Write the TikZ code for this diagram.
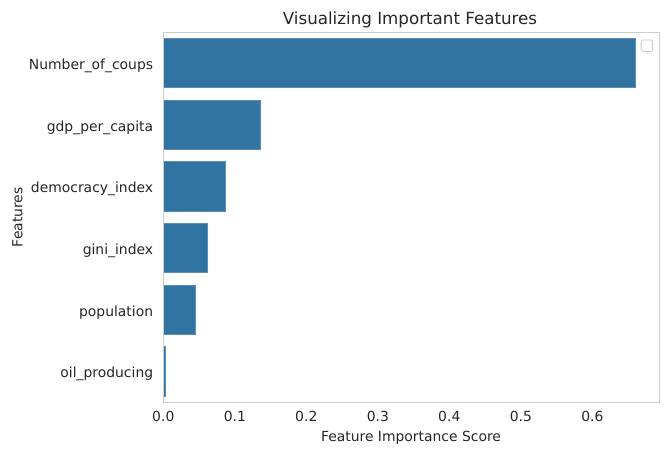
\documentclass[tikz,border=0pt]{standalone}
\usepackage{fontspec}
\setmainfont{DejaVu Sans}
\definecolor{barblue}{HTML}{3274A1}
\definecolor{baredge}{HTML}{5A8DB8}
\definecolor{spine}{HTML}{CCCCCC}
\definecolor{ink}{HTML}{262626}

\begin{document}
\begin{tikzpicture}[x=1pt, y=-1pt,
    ticklabel/.style={text=ink, font=\fontsize{13.9}{16}\selectfont, inner sep=0pt},
    featbar/.style={fill=barblue, draw=baredge, line width=0.7pt},
    frame/.style={draw=spine, line width=1pt},
    legendbox/.style={draw=spine, fill=white, rounded corners=2pt, line width=0.8pt,
      minimum size=11.5pt, inner sep=0pt}]
  \useasboundingbox (0,0) rectangle (669,455);
  % Define title and axis labels
  \node[ticklabel, font=\fontsize{16.7}{19}\selectfont, anchor=base] (title) at (410,24.5) {Visualizing Important Features};
  \node[ticklabel, anchor=base] (xlabel) at (411,441.7) {Feature Importance Score};
  \node[ticklabel, rotate=90] (ylabel) at (17.5,217.3) {Features};
  % Bars in data coordinates
  \begin{scope}[shift={(163.3,32.3)}, x=715pt, y=-61.67pt]
    \foreach \val/\feat [count=\i from 0] in {0.660/Number\_of\_coups, 0.136/gdp\_per\_capita,
        0.087/democracy\_index, 0.0617/gini\_index, 0.045/population, 0.003/oil\_producing} {
      \draw[featbar] (0,\i+0.1) rectangle (\val,\i+0.9);
      \node[ticklabel, anchor=base east, xshift=-10pt, yshift=-6.2pt] (feat\i) at (0,\i+0.5) {\feat};
    }
    \foreach \t in {0.0,0.1,0.2,0.3,0.4,0.5,0.6}
      \node[ticklabel, anchor=base, yshift=-19.4pt] (tick\t) at (\t,6) {\t};
    % Axes frame
    \draw[frame] (0,0) rectangle (0.6937,6);
  \end{scope}
  % Empty legend
  \node[legendbox] (legend) at (646.85,45.65) {};
\end{tikzpicture}
\end{document}
